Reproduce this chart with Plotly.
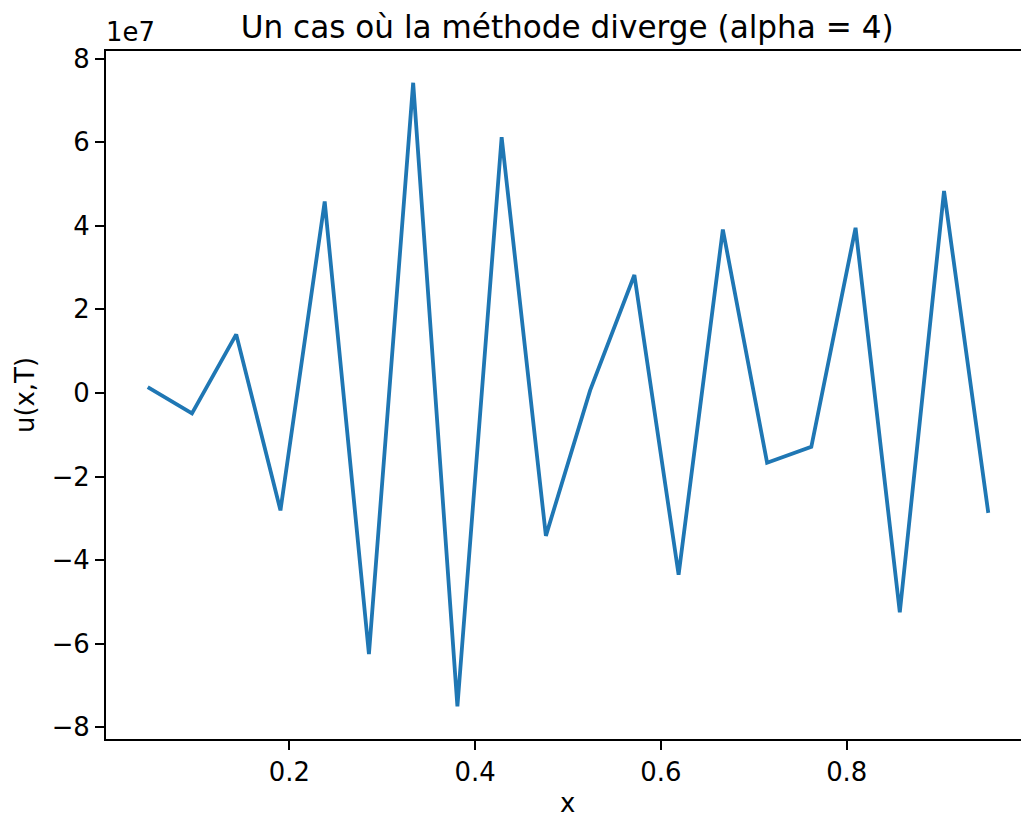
import plotly.graph_objects as go

# x grid: 20 interior points
x_vals = [i / 21 for i in range(1, 21)]
u_vals = [1.4e6, -4.9e6, 14.0e6, -28.1e6, 45.8e6, -62.5e6, 74.2e6, -75.0e6,
          61.2e6, -34.2e6, 0.6e6, 28.2e6, -43.5e6, 39.1e6, -16.7e6, -12.9e6,
          39.5e6, -52.5e6, 48.3e6, -28.7e6]

x_ticks = [0.2, 0.4, 0.6, 0.8]
x_ticktext = ["0.2", "0.4", "0.6", "0.8"]
y_ticks = [-8e7, -6e7, -4e7, -2e7, 0, 2e7, 4e7, 6e7, 8e7]
y_ticktext = ["\u22128", "\u22126", "\u22124", "\u22122", "0", "2", "4", "6", "8"]

title_text = "Un cas où la méthode diverge (alpha = 4)"
xlabel = "x"
ylabel = "u(x,T)"
offset_text = "1e7"

FONT = "DejaVu Sans"
TICK_SIZE = 25.9
TITLE_SIZE = 31.1

fig = go.Figure()
fig.add_trace(go.Scatter(x=x_vals, y=u_vals, mode="lines",
                         line=dict(color="#1f77b4", width=3.8),
                         showlegend=False))

fig.update_layout(
    width=1021, height=817,
    margin=dict(l=106, r=0, t=51, b=78, pad=0),
    paper_bgcolor="white", plot_bgcolor="white",
    font=dict(family=FONT, size=TICK_SIZE, color="black"),
    showlegend=False,
    title=dict(text=title_text, font=dict(family=FONT, size=TITLE_SIZE, color="black"),
               x=0.504, xref="paper", xanchor="center",
               y=1 - 27 / 817, yref="container", yanchor="middle"),
)

fig.update_xaxes(range=[0.00269, 0.9876], tickvals=x_ticks, ticktext=x_ticktext,
                 showgrid=False, zeroline=False, showline=True, mirror=True,
                 linecolor="black", linewidth=2, ticks="outside", ticklen=9,
                 tickwidth=2, tickcolor="black",
                 tickfont=dict(family=FONT, size=TICK_SIZE, color="black"))
fig.update_yaxes(range=[-82.8e6, 81.8e6], tickvals=y_ticks, ticktext=y_ticktext,
                 showgrid=False, zeroline=False, showline=True, mirror=False,
                 linecolor="black", linewidth=2, ticks="outside", ticklen=9,
                 tickwidth=2, tickcolor="black",
                 tickfont=dict(family=FONT, size=TICK_SIZE, color="black"))

fig.add_annotation(text=offset_text, xref="paper", yref="paper", x=0, y=1,
                   xanchor="left", yanchor="bottom", showarrow=False,
                   font=dict(family=FONT, size=TICK_SIZE, color="black"),
                   xshift=-2, yshift=2)
fig.add_annotation(text=xlabel, xref="paper", yref="paper", x=0.504, y=0,
                   xanchor="center", yanchor="middle", showarrow=False,
                   font=dict(family=FONT, size=TICK_SIZE, color="black"),
                   yshift=-(803 - 739))
fig.add_annotation(text=ylabel, xref="paper", yref="paper", x=0, y=0.5,
                   xanchor="center", yanchor="middle", showarrow=False, textangle=-90,
                   font=dict(family=FONT, size=TICK_SIZE, color="black"),
                   xshift=-(106 - 25))

fig.write_html("out.html")
